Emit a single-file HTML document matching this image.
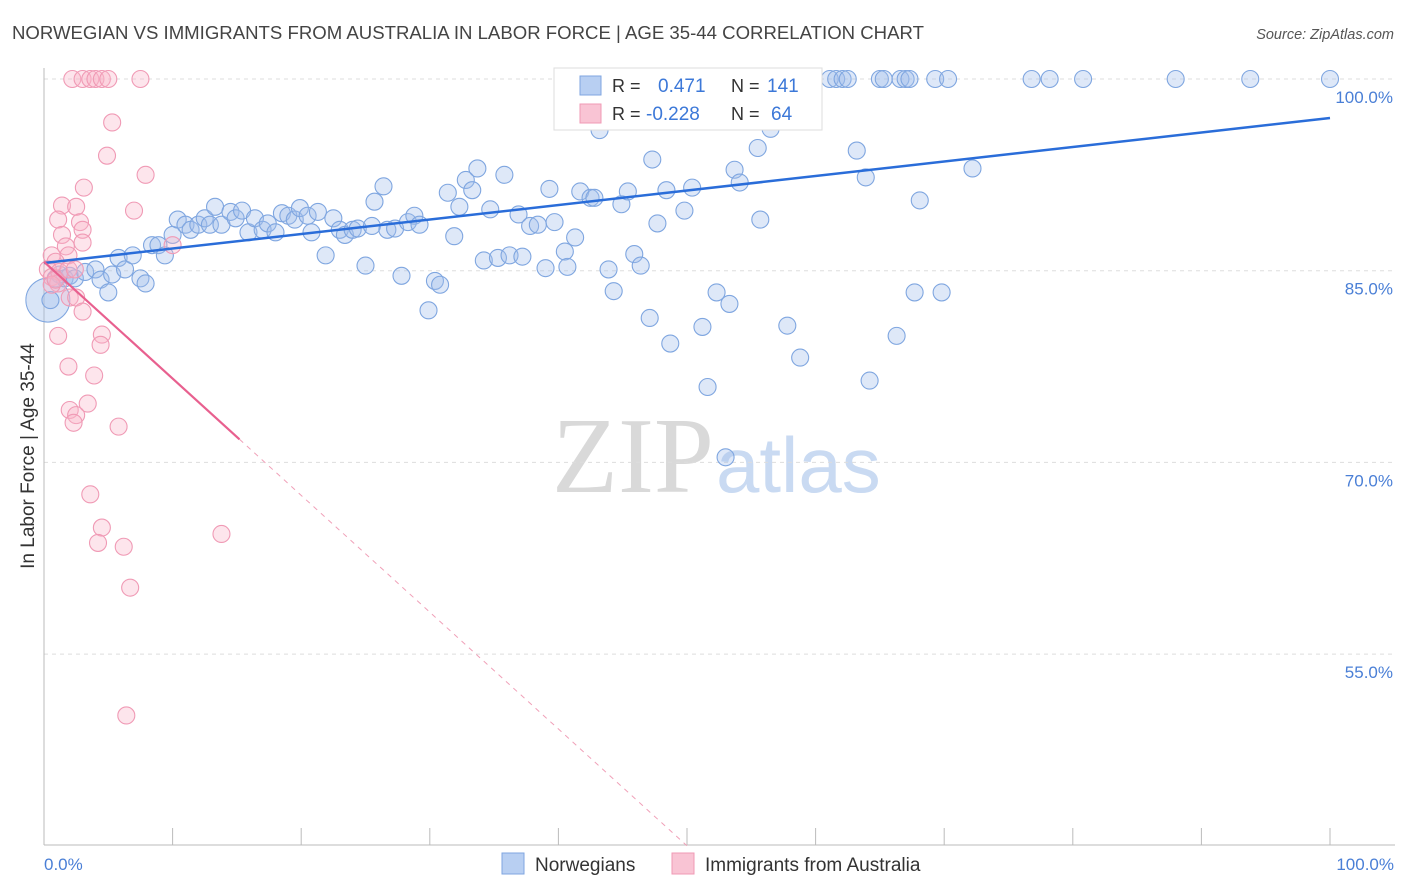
<!DOCTYPE html>
<html><head><meta charset="utf-8"><style>
body{margin:0;background:#fff;font-family:"Liberation Sans",sans-serif}
svg{display:block}
</style></head><body>
<svg id="chart" width="1406" height="892" viewBox="0 0 1406 892" xmlns="http://www.w3.org/2000/svg">
<text x="12" y="39" font-size="18.6" fill="#444">NORWEGIAN VS IMMIGRANTS FROM AUSTRALIA IN LABOR FORCE | AGE 35-44 CORRELATION CHART</text>
<text x="1394" y="39" font-size="14.5" font-style="italic" fill="#555" text-anchor="end">Source: ZipAtlas.com</text>
<g>
<text x="552" y="492" font-family="Liberation Serif,serif" font-size="108" fill="#d9d9d9">ZIP</text>
<text x="716" y="492" font-size="78" fill="#c9daf2">atlas</text>
</g>
<g id="grid"></g>
<g id="axes"></g>
<g id="pts"></g>
<g id="lines"></g>
<text transform="translate(34,456) rotate(-90)" font-size="19" fill="#333" text-anchor="middle">In Labor Force | Age 35-44</text>
<text x="44" y="870" font-size="17" fill="#4a7fd6">0.0%</text>
<text x="1394" y="870" font-size="17" fill="#4a7fd6" text-anchor="end">100.0%</text>
<g>
<rect x="554" y="68" width="268" height="62" fill="#fff" stroke="#ddd"/>
<rect x="580" y="76" width="21" height="19" fill="#b8cff2" stroke="#7fa6e0"/>
<rect x="580" y="104" width="21" height="19" fill="#f9c4d4" stroke="#f09ab5"/>
<text x="612" y="92" font-size="18" fill="#333">R =</text>
<text x="658" y="92" font-size="19" fill="#3c78d8">0.471</text>
<text x="731" y="92" font-size="18" fill="#333">N =</text>
<text x="767" y="92" font-size="19" fill="#3c78d8">141</text>
<text x="612" y="120" font-size="18" fill="#333">R =</text>
<text x="646" y="120" font-size="19" fill="#3c78d8">-0.228</text>
<text x="731" y="120" font-size="18" fill="#333">N =</text>
<text x="771" y="120" font-size="19" fill="#3c78d8">64</text>
</g>
<g>
<rect x="502" y="853" width="22" height="21" fill="#b8cff2" stroke="#7fa6e0"/>
<text x="535" y="871" font-size="19" fill="#333">Norwegians</text>
<rect x="672" y="853" width="22" height="21" fill="#f9c4d4" stroke="#f09ab5"/>
<text x="705" y="871" font-size="19" fill="#333">Immigrants from Australia</text>
</g>
</svg>
<script>
const yTicks=[100,85,70,55];
const yTickLabels=["100.0%","85.0%","70.0%","55.0%"];
const blueX=[0.5,0.9,1.2,1.6,2.0,2.4,3.2,4.0,4.4,5.0,5.3,5.8,6.3,6.9,7.5,7.9,8.4,8.9,9.4,10.0,10.4,11.0,11.4,12.0,12.5,12.9,13.3,13.8,14.5,14.9,15.4,15.9,16.4,17.0,17.4,18.0,18.5,19.0,19.5,19.9,20.5,20.8,21.3,21.9,22.5,23.0,23.4,24.0,24.4,25.0,25.5,25.7,26.4,26.7,27.3,27.8,28.3,28.8,29.2,29.9,30.4,30.8,31.4,31.9,32.3,32.8,33.3,33.7,34.2,34.7,35.3,35.8,36.2,36.9,37.2,37.8,38.4,39.0,39.3,39.7,40.5,40.7,41.3,41.7,42.5,42.8,43.2,43.9,44.3,44.9,45.4,45.9,46.4,47.1,47.3,47.7,48.4,48.7,49.8,50.4,51.2,51.6,52.3,53.0,53.3,53.7,54.1,55.5,55.7,56.5,57.8,58.8,63.2,63.9,64.2,66.3,67.7,68.1,69.8,72.2,56.5,58.0,61.1,61.6,62.1,62.5,65.0,65.3,66.6,67.0,67.3,69.3,70.3,76.8,78.2,80.8,88.0,93.8,100];
const blueY=[82.7,84.4,84.7,84.4,84.6,84.4,84.9,85.1,84.3,83.3,84.7,86.0,85.1,86.2,84.4,84.0,87.0,87.0,86.2,87.8,89.0,88.6,88.2,88.6,89.1,88.6,90.0,88.6,89.6,89.1,89.7,88.0,89.1,88.2,88.7,88.0,89.5,89.3,89.0,89.9,89.3,88.0,89.6,86.2,89.1,88.2,87.8,88.2,88.3,85.4,88.5,90.4,91.6,88.2,88.3,84.6,88.8,89.3,88.6,81.9,84.2,83.9,91.1,87.7,90.0,92.1,91.3,93.0,85.8,89.8,86.0,92.5,86.2,89.4,86.1,88.5,88.6,85.2,91.4,88.8,86.5,85.3,87.6,91.2,90.7,90.7,96.0,85.1,83.4,90.2,91.2,86.3,85.4,81.3,93.7,88.7,91.3,79.3,89.7,91.5,80.6,75.9,83.3,70.4,82.4,92.9,91.9,94.6,89.0,96.1,80.7,78.2,94.4,92.3,76.4,79.9,83.3,90.5,83.3,93.0,99.9,99.9,100,100,100,100,100,100,100,100,100,100,100,100,100,100,100,100,100];
const pinkX=[2.2,3.0,3.6,4.0,4.5,5.0,7.5,5.3,4.9,3.1,7.9,7.0,1.4,2.5,1.1,2.8,3.0,1.4,1.7,3.0,1.9,10.0,0.6,0.9,0.3,0.6,1.2,1.9,2.4,1.1,0.6,0.9,2.0,2.5,3.0,1.1,4.5,4.4,1.9,3.9,3.4,2.0,2.5,2.3,5.8,3.6,4.5,4.2,6.2,13.8,6.7,6.4];
const pinkY=[100,100,100,100,100,100,100,96.6,94.0,91.5,92.5,89.7,90.1,90.0,89.0,88.8,88.2,87.8,86.9,87.2,86.2,87.0,86.2,85.7,85.1,84.5,84.9,85.1,85.1,84.0,83.9,84.3,82.9,82.9,81.8,79.9,80.0,79.2,77.5,76.8,74.6,74.1,73.7,73.1,72.8,67.5,64.9,63.7,63.4,64.4,60.2,50.2];
const blueTrend=[85.6,96.95];
const pinkTrend=[85.7,40.0];
const X=v=>44+v*12.86, Y=v=>79+(100-v)*12.78;
const NS="http://www.w3.org/2000/svg";
function mk(t,a,p){const e=document.createElementNS(NS,t);for(const k in a)e.setAttribute(k,a[k]);p.appendChild(e);return e;}
const grid=document.getElementById('grid'),axes=document.getElementById('axes'),pts=document.getElementById('pts'),lines=document.getElementById('lines');
yTicks.forEach((t,i)=>{
 const l=mk('line',{x1:44,x2:1395,y1:Y(t),y2:Y(t),stroke:'#ddd','stroke-dasharray':'4,4'},grid);
 
 
 const tx=mk('text',{x:1393,y:Y(t)+24,'font-size':17,fill:'#4a7fd6','text-anchor':'end'},grid);
 tx.textContent=yTickLabels[i];
 
 
});
const ya=mk('line',{x1:44,x2:44,y1:68,y2:845,stroke:'#bbb'},axes);


const xa=mk('line',{x1:44,x2:1395,y1:845,y2:845,stroke:'#bbb'},axes);


for(let i=0;i<=10;i++){const t=mk('line',{x1:X(i*10),x2:X(i*10),y1:828,y2:845,stroke:'#bbb'},axes);
 
 }
const big=mk('circle',{cx:X(0.3),cy:Y(82.7),r:22,fill:'rgba(160,190,235,0.4)',stroke:'#7fa6e0'},pts);


blueX.forEach((x,i)=>{const c=mk('circle',{cx:X(x),cy:Y(blueY[i]),r:8.5,fill:'rgba(160,190,235,0.35)',stroke:'#7fa6e0','stroke-width':1.1},pts);
 
 });
pinkX.forEach((x,i)=>{const c=mk('circle',{cx:X(x),cy:Y(pinkY[i]),r:8.5,fill:'rgba(248,180,200,0.35)',stroke:'#f09ab5','stroke-width':1.1},pts);
 
 });
const bl=mk('line',{x1:X(0),y1:Y(blueTrend[0]),x2:X(100),y2:Y(blueTrend[1]),stroke:'#2a6dd9','stroke-width':2.5},lines);


const pm=v=>pinkTrend[0]+(pinkTrend[1]-pinkTrend[0])*v/50;
const pl=mk('line',{x1:X(0),y1:Y(pm(0)),x2:X(15.2),y2:Y(pm(15.2)),stroke:'#e8608f','stroke-width':2.2},lines);


const pd=mk('line',{x1:X(15.2),y1:Y(pm(15.2)),x2:X(50),y2:Y(pm(50)),stroke:'#f0a0b8','stroke-width':1,'stroke-dasharray':'5,5'},lines);


</script>
</body></html>
